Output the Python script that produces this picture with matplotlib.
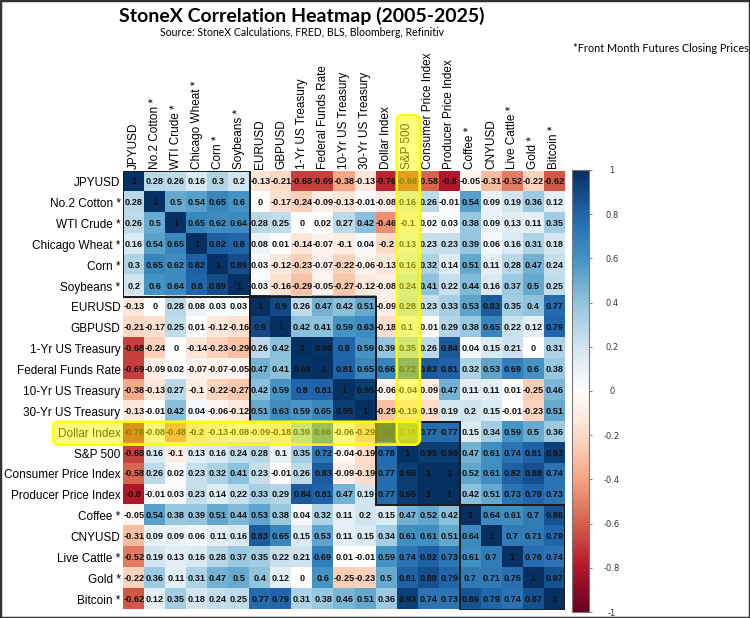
import numpy as np
import matplotlib.pyplot as plt
from matplotlib.colors import LinearSegmentedColormap
from matplotlib.patches import Rectangle, FancyBboxPatch

# Data
labels = ["JPYUSD", "No.2 Cotton *", "WTI Crude *", "Chicago Wheat *", "Corn *", "Soybeans *",
          "EURUSD", "GBPUSD", "1-Yr US Treasury", "Federal Funds Rate", "10-Yr US Treasury",
          "30-Yr US Treasury", "Dollar Index", "S&P 500", "Consumer Price Index",
          "Producer Price Index", "Coffee *", "CNYUSD", "Live Cattle *", "Gold *", "Bitcoin *"]

corr = [
    [1, 0.28, 0.26, 0.16, 0.3, 0.2, -0.13, -0.21, -0.68, -0.69, -0.38, -0.13, -0.76, -0.68, -0.58, -0.8, -0.05, -0.31, -0.52, -0.22, -0.62],
    [0.28, 1, 0.5, 0.54, 0.65, 0.6, 0, -0.17, -0.24, -0.09, -0.13, -0.01, -0.08, 0.16, 0.26, -0.01, 0.54, 0.09, 0.19, 0.36, 0.12],
    [0.26, 0.5, 1, 0.65, 0.62, 0.64, 0.28, 0.25, 0, 0.02, 0.27, 0.42, -0.46, -0.1, 0.02, 0.03, 0.38, 0.09, 0.13, 0.11, 0.35],
    [0.16, 0.54, 0.65, 1, 0.82, 0.8, 0.08, 0.01, -0.14, -0.07, -0.1, 0.04, -0.2, 0.13, 0.23, 0.23, 0.39, 0.06, 0.16, 0.31, 0.18],
    [0.3, 0.65, 0.62, 0.82, 1, 0.89, 0.03, -0.12, -0.23, -0.07, -0.22, -0.06, -0.13, 0.16, 0.32, 0.14, 0.51, 0.11, 0.28, 0.47, 0.24],
    [0.2, 0.6, 0.64, 0.8, 0.89, 1, 0.03, -0.16, -0.29, -0.05, -0.27, -0.12, -0.08, 0.24, 0.41, 0.22, 0.44, 0.16, 0.37, 0.5, 0.25],
    [-0.13, 0, 0.28, 0.08, 0.03, 0.03, 1, 0.9, 0.26, 0.47, 0.42, 0.51, -0.09, 0.28, 0.23, 0.33, 0.53, 0.83, 0.35, 0.4, 0.77],
    [-0.21, -0.17, 0.25, 0.01, -0.12, -0.16, 0.9, 1, 0.42, 0.41, 0.59, 0.63, -0.18, 0.1, -0.01, 0.29, 0.38, 0.65, 0.22, 0.12, 0.79],
    [-0.68, -0.24, 0, -0.14, -0.23, -0.29, 0.26, 0.42, 1, 0.98, 0.8, 0.59, 0.39, 0.35, 0.26, 0.84, 0.04, 0.15, 0.21, 0, 0.31],
    [-0.69, -0.09, 0.02, -0.07, -0.07, -0.05, 0.47, 0.41, 0.98, 1, 0.81, 0.65, 0.66, 0.72, 0.83, 0.81, 0.32, 0.53, 0.69, 0.6, 0.38],
    [-0.38, -0.13, 0.27, -0.1, -0.22, -0.27, 0.42, 0.59, 0.8, 0.81, 1, 0.95, -0.06, -0.04, -0.09, 0.47, 0.11, 0.11, 0.01, -0.25, 0.46],
    [-0.13, -0.01, 0.42, 0.04, -0.06, -0.12, 0.51, 0.63, 0.59, 0.65, 0.95, 1, -0.29, -0.19, -0.19, 0.19, 0.2, 0.15, -0.01, -0.23, 0.51],
    [-0.76, -0.08, -0.48, -0.2, -0.13, -0.08, -0.09, -0.18, 0.39, 0.66, -0.06, -0.29, 1, 0.78, 0.77, 0.77, 0.15, 0.34, 0.59, 0.5, 0.36],
    [-0.68, 0.16, -0.1, 0.13, 0.16, 0.24, 0.28, 0.1, 0.35, 0.72, -0.04, -0.19, 0.78, 1, 0.95, 0.95, 0.47, 0.61, 0.74, 0.81, 0.93],
    [-0.58, 0.26, 0.02, 0.23, 0.32, 0.41, 0.23, -0.01, 0.26, 0.83, -0.09, -0.19, 0.77, 0.95, 1, 1, 0.52, 0.61, 0.82, 0.88, 0.74],
    [-0.8, -0.01, 0.03, 0.23, 0.14, 0.22, 0.33, 0.29, 0.84, 0.81, 0.47, 0.19, 0.77, 0.95, 1, 1, 0.42, 0.51, 0.73, 0.79, 0.73],
    [-0.05, 0.54, 0.38, 0.39, 0.51, 0.44, 0.53, 0.38, 0.04, 0.32, 0.11, 0.2, 0.15, 0.47, 0.52, 0.42, 1, 0.64, 0.61, 0.7, 0.86],
    [-0.31, 0.09, 0.09, 0.06, 0.11, 0.16, 0.83, 0.65, 0.15, 0.53, 0.11, 0.15, 0.34, 0.61, 0.61, 0.51, 0.64, 1, 0.7, 0.71, 0.79],
    [-0.52, 0.19, 0.13, 0.16, 0.28, 0.37, 0.35, 0.22, 0.21, 0.69, 0.01, -0.01, 0.59, 0.74, 0.82, 0.73, 0.61, 0.7, 1, 0.76, 0.74],
    [-0.22, 0.36, 0.11, 0.31, 0.47, 0.5, 0.4, 0.12, 0, 0.6, -0.25, -0.23, 0.5, 0.81, 0.88, 0.79, 0.7, 0.71, 0.76, 1, 0.87],
    [-0.62, 0.12, 0.35, 0.18, 0.24, 0.25, 0.77, 0.79, 0.31, 0.38, 0.46, 0.51, 0.36, 0.93, 0.74, 0.73, 0.86, 0.79, 0.74, 0.87, 1],
]

# sizes of the boxed clusters along the diagonal
cluster_sizes = [6, 6, 4, 5]
highlight_row = "Dollar Index"
highlight_col = "S&P 500"
cbar_ticks = [1, 0.8, 0.6, 0.4, 0.2, 0, -0.2, -0.4, -0.6, -0.8, -1]

TITLE = "StoneX Correlation Heatmap (2005-2025)"
SUBTITLE = "Source: StoneX Calculations, FRED, BLS, Bloomberg, Refinitiv"
FOOTNOTE = "*Front Month Futures Closing Prices"

# corrplot style RdBu palette
cmap = LinearSegmentedColormap.from_list("corr", [
    "#67001F", "#B2182B", "#D6604D", "#F4A582", "#FDDBC7", "#FFFFFF",
    "#D1E5F0", "#92C5DE", "#4393C3", "#2166AC", "#053061"])

M = np.array(corr, dtype=float)
n = len(labels)
W, H = 750, 618

fig = plt.figure(figsize=(W / 100, H / 100), dpi=100)
ax = fig.add_axes([123.3 / W, 1 - 609.5 / H, 441.7 / W, 438.2 / H])
im = ax.imshow(M, cmap=cmap, vmin=-1, vmax=1, aspect='auto', interpolation='nearest')

ax.set_xticks(range(n))
ax.set_yticks(range(n))
ax.set_xticklabels(labels, rotation=90, fontsize=8.5, family='Liberation Sans')
ax.set_yticklabels(labels, fontsize=8.5, family='Liberation Sans')
ax.xaxis.tick_top()
ax.tick_params(length=0, pad=2)
for sp in ax.spines.values():
    sp.set_visible(False)

for i in range(n):
    for j in range(n):
        ax.text(j, i, f"{M[i, j]:g}", ha='center', va='center', fontsize=6.6,
                fontweight='bold', family='Liberation Sans', color='#111111')

# cluster boxes
start = 0
for s in cluster_sizes:
    ax.add_patch(Rectangle((start - 0.5, start - 0.5), s, s, fill=False,
                           lw=1.4, ec='#1a1a1a', zorder=4))
    start += s

# yellow highlights over the Dollar Index row and the S&P 500 column
r = labels.index(highlight_row)
c = labels.index(highlight_col)
boxes = [(-3.84, r - 0.5, c + 0.6 + 3.84, 1.1),
         (c - 0.5, -3.2, 1.1, r + 0.6 + 3.2)]
for x0, y0, w, h in boxes:
    ax.add_patch(FancyBboxPatch((x0, y0), w, h, boxstyle="round,pad=0,rounding_size=0.3",
                                fc=(1, 1, 0, 0.5), ec='none', clip_on=False, zorder=6))
    ax.add_patch(FancyBboxPatch((x0, y0), w, h, boxstyle="round,pad=0,rounding_size=0.3",
                                fc='none', ec='#ffff00', lw=1.8, clip_on=False, zorder=7))

# colorbar
cax = fig.add_axes([572 / W, 1 - 612 / H, 17 / W, 442 / H])
cb = fig.colorbar(im, cax=cax, ticks=cbar_ticks)
cb.ax.set_yticklabels([f"{t:g}" for t in cbar_ticks])
cb.ax.tick_params(labelsize=6, length=2.5, width=0.6, color='#666', labelcolor='#333', pad=14)
for t in cb.ax.get_yticklabels():
    t.set_ha('center')
cb.outline.set_linewidth(0.8)
cb.outline.set_edgecolor('#777')

fig.text(302 / W, 1 - 16 / H, TITLE, ha='center', va='center', fontsize=14,
         fontweight='bold', family='Lato')
fig.text(302 / W, 1 - 33 / H, SUBTITLE, ha='center', va='center', fontsize=7.6, family='Lato')
fig.text(573 / W, 1 - 48 / H, FOOTNOTE, ha='left', va='center', fontsize=7.8, family='Lato')

fig.add_artist(Rectangle((0, 0), 1, 1, transform=fig.transFigure, fill=False,
                         ec='#333333', lw=2.5))

fig.savefig('out.png', dpi=100)
